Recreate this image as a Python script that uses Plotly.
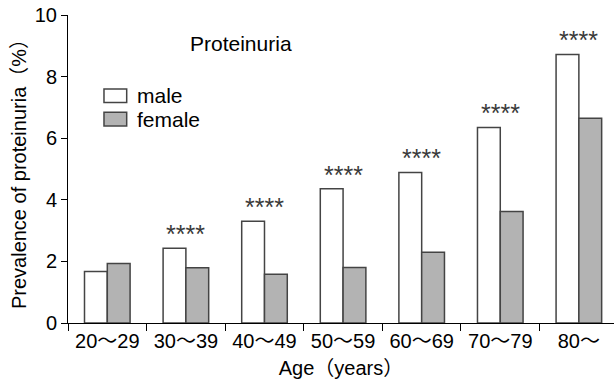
import plotly.graph_objects as go

categories = ["20〜29", "30〜39", "40〜49", "50〜59", "60〜69", "70〜79", "80〜"]
male = [1.67, 2.43, 3.30, 4.36, 4.89, 6.35, 8.72]
female = [1.93, 1.79, 1.58, 1.80, 2.30, 3.62, 6.65]
significance = ["", "****", "****", "****", "****", "****", "****"]
series_names = ["male", "female"]
series_colors = ["#ffffff", "#b3b3b3"]
y_ticks = [0, 2, 4, 6, 8, 10]

FONT = "Liberation Sans, Arial, Noto Sans CJK JP, sans-serif"
OUTLINE = "#444444"

fig = go.Figure()
for name, vals, col in zip(series_names, [male, female], series_colors):
    fig.add_trace(go.Bar(
        x=categories, y=vals, name=name,
        marker=dict(color=col, line=dict(color=OUTLINE, width=1.5)),
        showlegend=False,
    ))

for cat, m, s in zip(categories, male, significance):
    if s:
        fig.add_annotation(x=cat, y=m, text=s, showarrow=False,
                           yanchor="bottom", yshift=-2,
                           font=dict(family=FONT, size=25, color="#3a3a3a"))

# manual legend (swatch + label)
leg_y = [(0.716, 0.760), (0.640, 0.684)]
for (name, col, (y0, y1)) in zip(series_names, series_colors, leg_y):
    fig.add_shape(type="rect", xref="paper", yref="paper",
                  x0=0.0659, x1=0.1075, y0=y0, y1=y1,
                  fillcolor=col, line=dict(color=OUTLINE, width=1.5))
    fig.add_annotation(xref="paper", yref="paper", x=0.1227, y=(y0 + y1) / 2,
                       text=name, showarrow=False, xanchor="left", yanchor="middle",
                       font=dict(family=FONT, size=21, color="black"))

fig.add_annotation(xref="paper", yref="paper", x=0.2198, y=0.906,
                   text="Proteinuria", showarrow=False, xanchor="left", yanchor="middle",
                   font=dict(family=FONT, size=21, color="black"))

fig.update_layout(
    width=614, height=382,
    margin=dict(l=68, r=0, t=15, b=59),
    paper_bgcolor="white", plot_bgcolor="white",
    barmode="group", bargap=0.42, bargroupgap=0,
    font=dict(family=FONT, size=20, color="black"),
    xaxis=dict(
        type="category", range=[-0.5, 6.447],
        tickson="boundaries", ticks="outside", ticklen=7, tickcolor="black",
        showline=True, linecolor="black", linewidth=1,
        showgrid=False, zeroline=False,
        tickfont=dict(family=FONT, size=20),
        title=dict(text="Age（years）", font=dict(family=FONT, size=20), standoff=9),
    ),
    yaxis=dict(
        range=[0, 10], tickvals=y_ticks, ticks="outside", ticklen=6, tickcolor="black",
        showline=True, linecolor="black", linewidth=1,
        showgrid=False, zeroline=False,
        tickfont=dict(family=FONT, size=20),
        title=dict(text="Prevalence of proteinuria（%）", font=dict(family=FONT, size=20), standoff=2),
    ),
)

fig.write_html("out.html")
